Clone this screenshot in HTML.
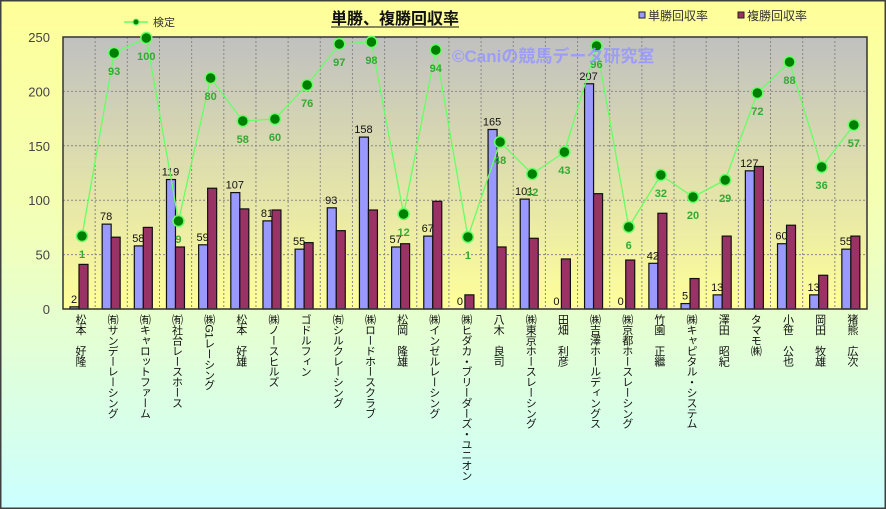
<!DOCTYPE html>
<html><head><meta charset="utf-8">
<style>
body{margin:0;width:886px;height:509px;overflow:hidden;font-family:"Liberation Sans","Noto Sans CJK JP",sans-serif}
#w{position:relative;width:886px;height:509px}
.xl{position:absolute;top:314px;height:190px;writing-mode:vertical-rl;text-orientation:mixed;font-size:11px;color:#111;line-height:13px;white-space:nowrap;letter-spacing:-0.6px}
</style></head><body><div id="w">
<svg id="s" width="886" height="509" xmlns="http://www.w3.org/2000/svg" style="position:absolute;left:0;top:0">
<defs>
<linearGradient id="bg" x1="0" y1="0" x2="0" y2="1"><stop offset="0" stop-color="#ffff99"/><stop offset="0.45" stop-color="#f2ffb8"/><stop offset="1" stop-color="#ccffff"/></linearGradient>
<linearGradient id="pg" x1="0" y1="0" x2="0" y2="1"><stop offset="0" stop-color="#c0c0c0"/><stop offset="1" stop-color="#ffff99"/></linearGradient>
</defs>
<rect x="0.5" y="0.5" width="885" height="508" fill="url(#bg)" stroke="#404040" stroke-width="2"/>
<rect x="63" y="37" width="804" height="272" fill="url(#pg)"/>
<g id="g"></g>
<text x="395" y="24" text-anchor="middle" font-size="16" font-weight="bold" fill="#111">単勝、複勝回収率</text>
<line x1="331" y1="27" x2="459" y2="27" stroke="#111" stroke-width="1"/>
<line x1="124" y1="22" x2="148" y2="22" stroke="#66ff66" stroke-width="1.5"/>
<circle cx="136" cy="22" r="3" fill="#008000" stroke="#66ff66"/>
<text x="153" y="26" font-size="11" fill="#333">検定</text>
<rect x="639" y="12" width="6" height="6" fill="#9999ff" stroke="#222"/>
<text x="648" y="20" font-size="12" fill="#333">単勝回収率</text>
<rect x="738" y="12" width="6" height="6" fill="#993366" stroke="#222"/>
<text x="747" y="20" font-size="12" fill="#333">複勝回収率</text>
<text x="452" y="62" font-size="17" font-weight="bold" fill="#9999ff" opacity="0.9">©Caniの競馬データ研究室</text>
</svg>
<div id="xls"></div>
</div>
<script>
var ns="http://www.w3.org/2000/svg",g=document.getElementById('g');
function el(t,a,txt){var e=document.createElementNS(ns,t);for(var k in a)e.setAttribute(k,a[k]);if(txt!=null)e.textContent=txt;g.appendChild(e);return e;}
var B=[2,78,58,119,59,107,81,55,93,158,57,67,0,165,101,0,207,0,42,5,13,127,60,13,55];
var R=[41,66,75,57,111,92,91,61,72,91,60,99,13,57,65,46,106,45,88,28,67,131,77,31,67];
var LY=[236,53,38,221,78,121,119,85,44,42,214,50,237,142,174,152,46,227,175,197,180,93,62,167,125];
var LV=[1,93,100,9,80,58,60,76,97,98,12,94,1,48,32,43,96,6,32,20,29,72,88,36,57];
var N=["松本　好隆","㈲サンデーレーシング","㈲キャロットファーム","㈲社台レースホース","㈱G1レーシング","松本　好雄","㈱ノースヒルズ","ゴドルフィン","㈲シルクレーシング","㈱ロードホースクラブ","松岡　隆雄","㈱インゼルレーシング","㈱ヒダカ・ブリーダーズ・ユニオン","八木　良司","㈱東京ホースレーシング","田畑　利彦","㈱吉澤ホールディングス","㈱京都ホースレーシング","竹園　正繼","㈱キャピタル・システム","澤田　昭紀","タマモ㈱","小笹　公也","岡田　牧雄","猪熊　広次"];
var W=804/25;function Y(v){return 309-v*1.088;}
for(var v=50;v<=200;v+=50)el('line',{x1:63,x2:867,y1:Y(v),y2:Y(v),stroke:'#888','stroke-dasharray':'2,2','stroke-width':1});
for(var i=1;i<25;i++){var x=63+i*W;el('line',{x1:x,x2:x,y1:37,y2:309,stroke:'#888','stroke-dasharray':'2,2','stroke-width':1});}
for(var v=0;v<=250;v+=50)el('text',{x:50,y:Y(v)+5,'text-anchor':'end','font-size':13,fill:'#444'},String(v));
var xs=document.getElementById('xls'),h='';
for(var i=0;i<25;i++){var s=63+i*W;
el('rect',{x:s+7,y:Y(B[i]),width:9,height:B[i]*1.088,fill:'#9999ff',stroke:'#111','stroke-width':1.2});
el('rect',{x:s+16,y:Y(R[i]),width:9,height:R[i]*1.088,fill:'#993366',stroke:'#111','stroke-width':1.2});
el('text',{x:s+11,y:Y(B[i])-4,'text-anchor':'middle','font-size':11,fill:'#111'},String(B[i]));
h+='<div class="xl" style="left:'+(s+10)+'px">'+N[i]+'</div>';}
xs.innerHTML=h;
el('rect',{x:63,y:37,width:804,height:272,fill:'none',stroke:'#333','stroke-width':1.5});
var p='';for(var i=0;i<25;i++)p+=(63+i*W+19)+','+LY[i]+' ';
el('polyline',{points:p,fill:'none',stroke:'#66ff66','stroke-width':1.3});
for(var i=0;i<25;i++){var x=63+i*W+19;el('circle',{cx:x,cy:LY[i],r:5.5,fill:'#008000',stroke:'#66ff66','stroke-width':1.5});
el('text',{x:x,y:LY[i]+22,'text-anchor':'middle','font-size':11,'font-weight':'bold',fill:'#33aa33'},String(LV[i]));}
</script>
</body></html>
